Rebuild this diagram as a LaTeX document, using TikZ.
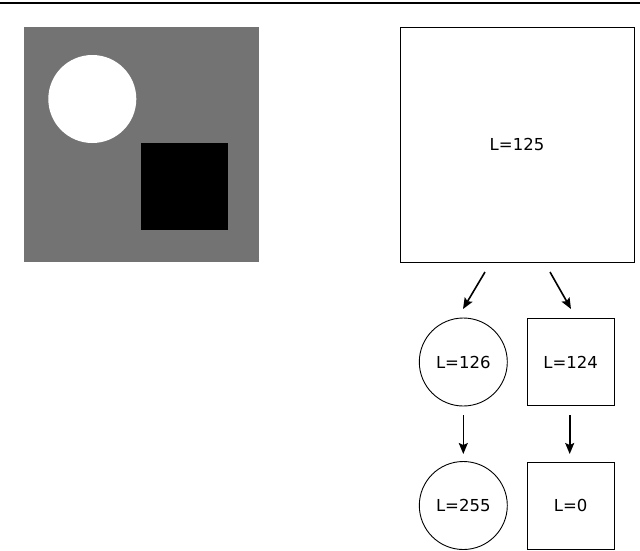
\documentclass[tikz,border=0pt]{standalone}
\usepackage{fontspec}
\setmainfont{DejaVu Sans}
\usetikzlibrary{arrows.meta}
\definecolor{imggray}{RGB}{115,115,115}
\tikzset{
  boxnode/.style={draw=black, line width=0.9pt, rectangle, minimum size=87pt, inner sep=0pt, font=\fontsize{16.5}{18}\selectfont},
  circnode/.style={draw=black, line width=0.9pt, circle, minimum size=88pt, inner sep=0pt, font=\fontsize{16.5}{18}\selectfont},
  bigbox/.style={draw=black, line width=0.9pt, rectangle, minimum width=234pt, minimum height=235pt, inner sep=0pt, font=\fontsize{16.5}{18}\selectfont},
  arr/.style={line width=1.6pt, -{Stealth[length=11pt,width=9pt,inset=2pt]}}
}
\begin{document}
\begin{tikzpicture}[x=1pt,y=-1pt]
\useasboundingbox (0,0) rectangle (640,550);
% top rule
\draw[line width=2.5pt] (0,3) -- (640,3);
% left image
\fill[imggray] (23.5,27) rectangle (259,262);
\fill[white] (92.3,99) circle (44);
\fill[black] (140.7,142.5) rectangle (228.3,230);
% right tree
\node[bigbox] (root) at (517,144.5) {L=125};
\node[circnode] (c1) at (463.3,362) {L=126};
\node[boxnode] (s1) at (570.6,362) {L=124};
\node[circnode] (c2) at (463.3,505.5) {L=255};
\node[boxnode] (s2) at (570.6,505.5) {L=0};
\coordinate (a1s) at (485,272);
\coordinate (a1e) at (463,309);
\coordinate (a2s) at (550,272);
\coordinate (a2e) at (571,309);
\coordinate (a3s) at (463.3,415);
\coordinate (a3e) at (463.3,454);
\coordinate (a4s) at (569.7,415);
\coordinate (a4e) at (569.7,454);
\draw[arr] (a1s) -- (a1e);
\draw[arr] (a2s) -- (a2e);
\draw[arr] (a3s) -- (a3e);
\draw[arr] (a4s) -- (a4e);
\end{tikzpicture}
\end{document}
